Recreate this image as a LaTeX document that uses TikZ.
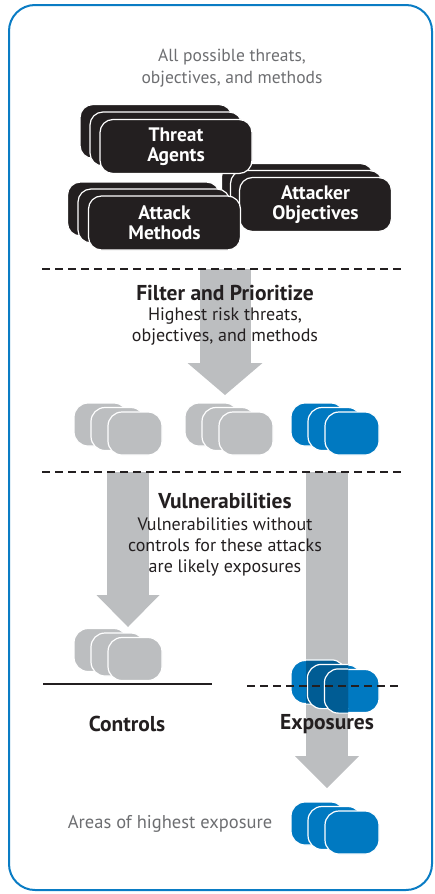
\documentclass[tikz,border=0pt]{standalone}
\usepackage{fontspec}
\setmainfont{PT Sans}
\usetikzlibrary{positioning,arrows.meta}

\definecolor{cardblack}{HTML}{231F20}
\definecolor{cardgray}{HTML}{BCBEC0}
\definecolor{cardblue}{HTML}{0079C1}
\definecolor{darkblue}{HTML}{005C94}
\definecolor{textgray}{HTML}{6D6E71}
\definecolor{frameblue}{HTML}{0A7CC4}

\tikzset{
  bigcard/.style={draw=white, line width=1.2pt, fill=cardblack, rounded corners=13pt,
    minimum width=152pt, minimum height=54pt, text=white, align=center, inner sep=0pt,
    font=\fontsize{19.5}{20}\selectfont\bfseries},
  smallcard/.style={draw=white, line width=1.2pt, rounded corners=14pt,
    minimum width=54pt, minimum height=43pt, inner sep=0pt},
  note/.style={text=textgray, align=center, inner sep=1pt, font=\fontsize{17.5}{22}\selectfont},
  heading/.style={text=cardblack, inner sep=1pt, font=\fontsize{21.5}{24}\selectfont\bfseries},
  desc/.style={text=cardblack, align=center, inner sep=1pt, font=\fontsize{18}{21}\selectfont},
  bigarrow/.style 2 args={cardgray, line width=#1,
    -{Triangle[length=32pt, width=#2, line width=0pt]}},
  divider/.style={cardblack, line width=2pt, dash pattern=on 8pt off 5pt}
}

% three cards, front one named #1
\newcommand{\bigstack}[5]{%
  \node[bigcard, xshift=-2*#4, yshift=2*#5] (#1-1) at (#2) {};
  \node[bigcard, xshift=-#4, yshift=#5] (#1-2) at (#2) {};
  \node[bigcard] (#1) at (#2) {#3};}
\newcommand{\smallstack}[3]{%
  \node[smallcard, fill=#3, xshift=-34pt, yshift=9pt] (#1-1) at (#2) {};
  \node[smallcard, fill=#3, xshift=-17pt, yshift=4.5pt] (#1-2) at (#2) {};
  \node[smallcard, fill=#3] (#1) at (#2) {};}

\begin{document}
\begin{tikzpicture}[x=1pt,y=-1pt]
  \useasboundingbox (0,0) rectangle (435,894);
  \draw[frameblue, line width=2pt, rounded corners=26pt] (9,5) rectangle (432,890);

  \node[note] (all) at (232,68) {All possible threats,\\objectives, and methods};

  \bigstack{goals}{315.5,204.5}{Attacker\\Objectives}{9pt}{7pt}
  \bigstack{agents}{176,146.5}{Threat\\Agents}{10pt}{7.5pt}
  \bigstack{methods}{164.5,223}{Attack\\Methods}{10.5pt}{7pt}

  % arrows
  \coordinate (filter-in) at (225,269);
  \coordinate (filter-out) at (225,395);
  \coordinate (vuln-in) at (128,472);
  \coordinate (vuln-out) at (128,627);
  \coordinate (expo-in) at (327,472);
  \coordinate (expo-out) at (327,788);
  \draw[bigarrow={51pt}{75pt}] (filter-in) -- (filter-out);
  \draw[bigarrow={42pt}{63pt}] (vuln-in) -- (vuln-out);
  \draw[bigarrow={42pt}{64pt}] (expo-in) -- (expo-out);

  \draw[divider] (42,269) -- (403,269);
  \draw[divider] (42,472) -- (403,472);

  \node[heading] (filter) at (225,293) {Filter and Prioritize};
  \node[desc, below=5pt of filter] (filter-text) {Highest risk threats,\\objectives, and methods};

  \smallstack{prio1}{135,433.5}{cardgray}
  \smallstack{prio2}{246,433.5}{cardgray}
  \smallstack{prio3}{352,433.5}{cardblue}

  \node[heading] (vuln) at (225,501) {Vulnerabilities};
  \node[desc, below=7pt of vuln] (vuln-text) {Vulnerabilities without\\controls for these attacks\\are likely exposures};

  \smallstack{ctrl}{135,659}{cardgray}
  \smallstack{expo}{352,691}{cardblue}
  % part of the exposures under the arrow
  \begin{scope}
    \clip (306,640) rectangle (348,720);
    \foreach \c in {expo-1,expo-2,expo}
      \draw[smallcard, fill=darkblue] (\c.south west) rectangle (\c.north east);
  \end{scope}

  \draw[cardblack, line width=2pt] (43,684) -- (212,684);
  \draw[divider] (247,686) -- (402,686);

  \node[heading] (controls) at (127,724) {Controls};
  \node[heading] (exposures) at (327,724) {Exposures};

  \smallstack{high}{352,832.5}{cardblue}
  \node[note, left=17pt of high-1, font=\fontsize{18.5}{22}\selectfont] (areas) {Areas of highest exposure};
\end{tikzpicture}
\end{document}
